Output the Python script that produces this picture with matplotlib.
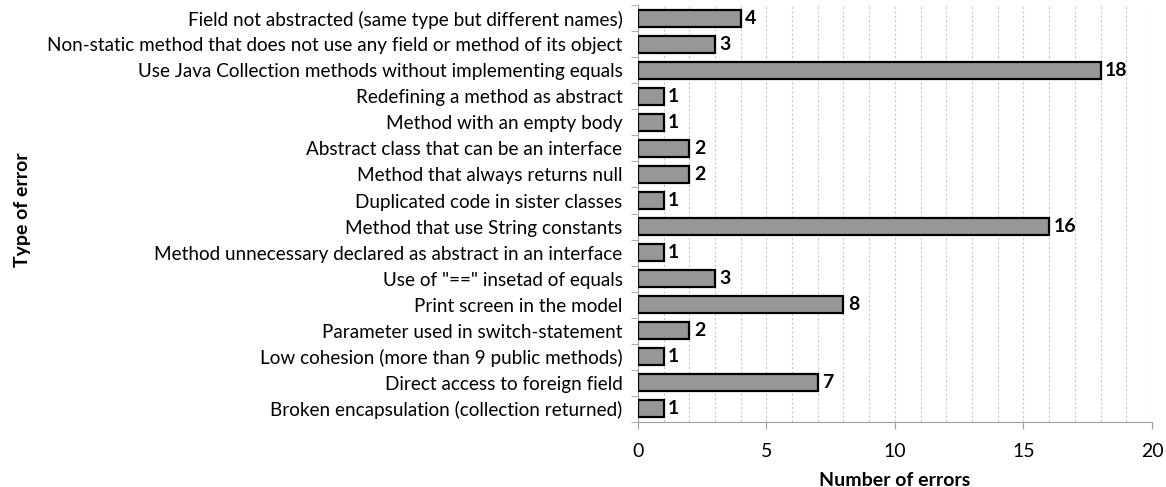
import matplotlib.pyplot as plt
import numpy as np

# error categories, top to bottom
error_types = [
    "Field not abstracted (same type but different names)",
    "Non-static method that does not use any field or method of its object",
    "Use Java Collection methods without implementing equals",
    "Redefining a method as abstract",
    "Method with an empty body",
    "Abstract class that can be an interface",
    "Method that always returns null",
    "Duplicated code in sister classes",
    "Method that use String constants",
    "Method unnecessary declared as abstract in an interface",
    'Use of "==" insetad of equals',
    "Print screen in the model",
    "Parameter used in switch-statement",
    "Low cohesion (more than 9 public methods)",
    "Direct access to foreign field",
    "Broken encapsulation (collection returned)",
]
error_counts = [4, 3, 18, 1, 1, 2, 2, 1, 16, 1, 3, 8, 2, 1, 7, 1]
x_ticks = [0, 5, 10, 15, 20]

plt.rcParams["font.family"] = ["Lato", "DejaVu Sans"]

fig = plt.figure(figsize=(11.66, 4.87), dpi=100)
ax = fig.add_axes([0.547, 0.1335, 0.441, 0.856])

y = np.arange(len(error_types))
ax.barh(y, error_counts, height=0.65, color="#979797",
        edgecolor="black", linewidth=1.6, zorder=3)

for yi, v in zip(y, error_counts):
    ax.text(v + 0.18, yi, str(v), va="center", ha="left",
            fontsize=14, fontweight="bold", zorder=4)

ax.set_ylim(len(error_types) - 0.5, -0.5)
ax.set_xlim(0, 20)
ax.set_yticks(y)
ax.set_yticklabels(error_types, fontsize=13.6)
ax.set_yticks(np.arange(-0.5, len(error_types), 1), minor=True)
ax.tick_params(axis="y", which="major", length=0, pad=11)
ax.tick_params(axis="y", which="minor", length=5, color="#a0a0a0")

ax.set_xticks(x_ticks)
ax.set_xticks(np.arange(0, 21, 1), minor=True)
ax.tick_params(axis="x", which="major", labelsize=14, length=5,
               color="#a0a0a0", pad=10)
ax.tick_params(axis="x", which="minor", length=0)
ax.grid(axis="x", which="both", linestyle=(0, (2, 2)),
        color="#c8c8c8", linewidth=0.8, zorder=0)

for side in ["top", "right"]:
    ax.spines[side].set_visible(False)
for side in ["left", "bottom"]:
    ax.spines[side].set_color("#a0a0a0")

ax.set_xlabel("Number of errors", fontsize=14, fontweight="bold", labelpad=9)
fig.text(0.019, 0.569, "Type of error", rotation=90, va="center",
         ha="center", fontsize=14, fontweight="bold")

fig.savefig("out.png", dpi=100)
